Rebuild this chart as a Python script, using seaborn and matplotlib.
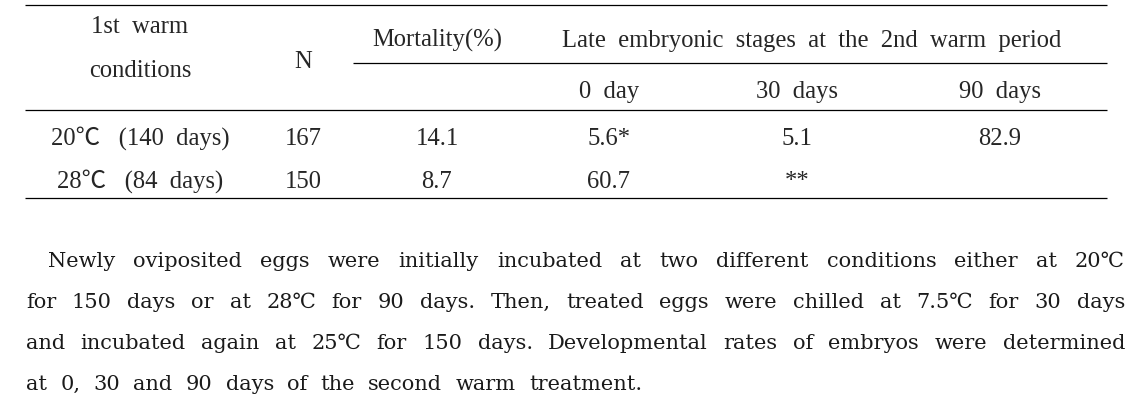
import matplotlib
matplotlib.use('Agg')
import matplotlib.pyplot as plt
import seaborn as sns

sns.set_theme(style='white')
plt.rcParams['font.family'] = ['Liberation Serif', 'Noto Sans CJK KR', 'DejaVu Serif']

# table contents
conditions = ['20℃   (140  days)', '28℃   (84  days)']
n_eggs = ['167', '150']
mortality = ['14.1', '8.7']
day0 = ['5.6*', '60.7']
day30 = ['5.1', '**']
day90 = ['82.9', '']
sub_headers = ['0  day', '30  days', '90  days']

note_lines = [
    'Newly oviposited eggs were initially incubated at two different conditions either at 20℃',
    'for 150 days or at 28℃ for 90 days. Then, treated eggs were chilled at 7.5℃ for 30 days',
    'and incubated again at 25℃ for 150 days. Developmental rates of embryos were determined',
    'at 0, 30 and 90 days of the second warm treatment.',
]

W, H = 1140, 406
fig = plt.figure(figsize=(W / 100, H / 100), dpi=100)
ax = fig.add_axes([0, 0, 1, 1])
ax.set_xlim(0, W)
ax.set_ylim(H, 0)
ax.axis('off')

fs = 17.7
col_x = [140, 303, 437, 609, 797, 1000]
left, right = 25, 1107

# rules
ax.hlines([6, 111, 199], left, right, color='black', lw=0.9)
ax.hlines(64, 353, right, color='black', lw=0.9)

# header
ax.text(col_x[0], 33, '1st  warm', ha='center', va='baseline', fontsize=fs)
ax.text(col_x[0], 77, 'conditions', ha='center', va='baseline', fontsize=fs)
ax.text(col_x[1], 68, 'N', ha='center', va='baseline', fontsize=fs)
ax.text(col_x[2], 47, 'Mortality(%)', ha='center', va='baseline', fontsize=fs)
ax.text(812, 47, 'Late  embryonic  stages  at  the  2nd  warm  period',
        ha='center', va='baseline', fontsize=fs)
for x, s in zip(col_x[3:], sub_headers):
    ax.text(x, 98, s, ha='center', va='baseline', fontsize=fs)

# body rows
columns = [conditions, n_eggs, mortality, day0, day30, day90]
for x, col in zip(col_x, columns):
    for y, val in zip([145, 188], col):
        ax.text(x, y, val, ha='center', va='baseline', fontsize=fs)

# justified footnote, wider serif like the original
note_font = ['DejaVu Serif', 'Noto Sans CJK KR']
nfs = 15
renderer = fig.canvas.get_renderer()
baselines = [267, 308, 349, 390]
for i, (line, y) in enumerate(zip(note_lines, baselines)):
    words = line.split(' ')
    objs = [ax.text(0, y, w, ha='left', va='baseline', fontsize=nfs,
                    family=note_font, color='#1a1a1a') for w in words]
    widths = [o.get_window_extent(renderer).width for o in objs]
    x0 = 48 if i == 0 else 26
    if i < len(note_lines) - 1:
        gap = (1125 - x0 - sum(widths)) / (len(words) - 1)
    else:
        gap = (642 - x0 - sum(widths)) / (len(words) - 1)
    x = x0
    for o, w in zip(objs, widths):
        o.set_x(x)
        x += w + gap

fig.savefig('out.png', dpi=100)
